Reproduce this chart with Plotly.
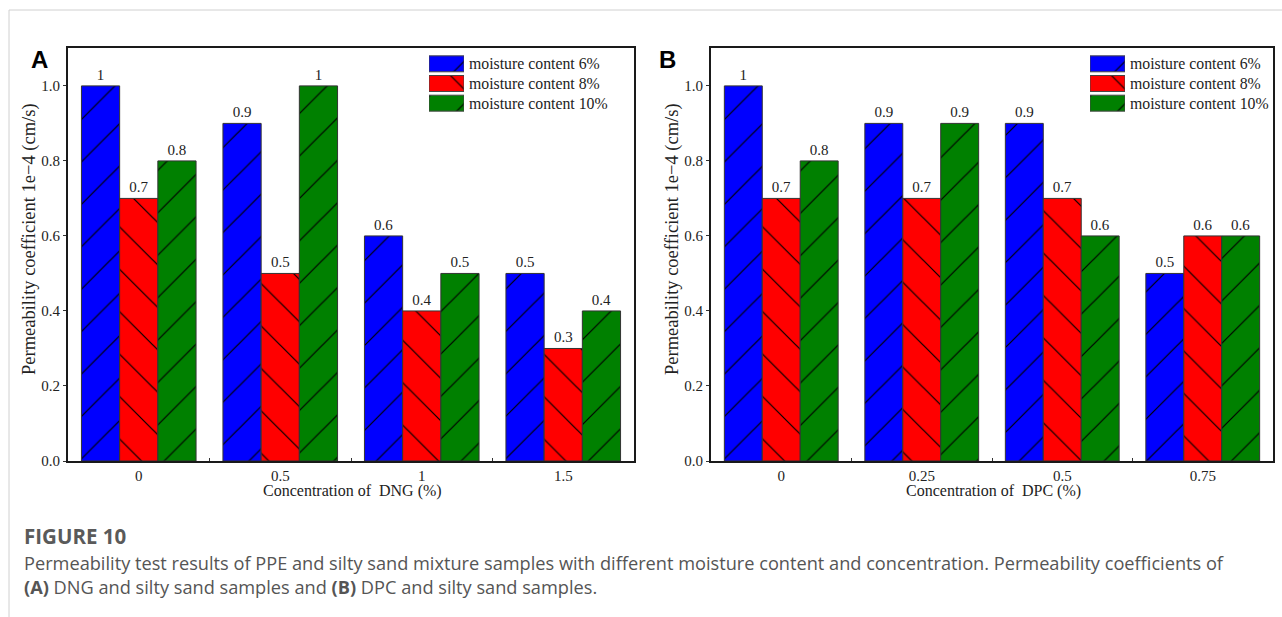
import plotly.graph_objects as go

cats_a = ["0", "0.5", "1", "1.5"]
cats_b = ["0", "0.25", "0.5", "0.75"]
series_names = ["moisture content 6%", "moisture content 8%", "moisture content 10%"]
vals_a = {
    "moisture content 6%": [1, 0.9, 0.6, 0.5],
    "moisture content 8%": [0.7, 0.5, 0.4, 0.3],
    "moisture content 10%": [0.8, 1, 0.5, 0.4],
}
vals_b = {
    "moisture content 6%": [1, 0.9, 0.9, 0.5],
    "moisture content 8%": [0.7, 0.7, 0.7, 0.6],
    "moisture content 10%": [0.8, 0.9, 0.6, 0.6],
}
y_ticks = [0.0, 0.2, 0.4, 0.6, 0.8, 1.0]
x_title_a = "Concentration of  DNG (%)"
x_title_b = "Concentration of  DPC (%)"
y_title = "Permeability coefficient 1e\u22124 (cm/s)"

colors = {"moisture content 6%": "#0000ff", "moisture content 8%": "#ff0000", "moisture content 10%": "#008000"}
shapes_p = {"moisture content 6%": "/", "moisture content 8%": "\\", "moisture content 10%": "/"}

W, H = 1282, 617
serif = "Liberation Serif, Times New Roman, serif"

def pat(name, size=30):
    return dict(shape=shapes_p[name], fgcolor="black", bgcolor=colors[name],
                size=size, solidity=0.04, fillmode="replace")

fig = go.Figure()
for cats, vals, xa, ya in [(cats_a, vals_a, "x", "y"), (cats_b, vals_b, "x2", "y2")]:
    for name in series_names:
        fig.add_trace(go.Bar(
            x=cats, y=vals[name], name=name, xaxis=xa, yaxis=ya, showlegend=False,
            text=[f"{v:g}" for v in vals[name]], textposition="outside",
            textfont=dict(family=serif, size=15, color="#222"),
            cliponaxis=False,
            marker=dict(color=colors[name], line=dict(color="#333", width=1), pattern=pat(name)),
        ))

# legend keys: one swatch per series, labelled with the series name (tick labels on the right)
for xa, ya in [("x3", "y3"), ("x4", "y4")]:
    for name in series_names:
        fig.add_trace(go.Bar(
            y=[name], x=[1], orientation="h", xaxis=xa, yaxis=ya, name=name,
            offsetgroup="key", showlegend=False, hoverinfo="skip",
            marker=dict(color=colors[name], line=dict(color="#444", width=1), pattern=pat(name)),
        ))

ydom = [(H - 461) / H, (H - 48) / H]
axis_common = dict(showline=True, linecolor="#1a1a1a", linewidth=2, mirror=True,
                   showgrid=False, zeroline=False)
leg_ydom = [(H - 113) / H, (H - 54) / H]
leg_x = dict(range=[0, 1], visible=False, fixedrange=True)
leg_y = dict(type="category", autorange="reversed", side="right", showline=False, showgrid=False,
             zeroline=False, ticks="", ticklabelstandoff=4, tickmode="array",
             tickvals=series_names, ticktext=series_names,
             tickfont=dict(family=serif, size=15.8, color="#222"), domain=leg_ydom)
fig.update_layout(
    width=W, height=H, margin=dict(l=0, r=0, t=0, b=0, autoexpand=False),
    paper_bgcolor="white", plot_bgcolor="rgba(0,0,0,0)",
    barmode="group", bargap=0.19, bargroupgap=0,
    font=dict(family=serif, size=15, color="#222"),
    showlegend=False,
    xaxis=dict(domain=[68 / W, 634 / W], type="category", tickson="boundaries",
               ticks="inside", ticklen=3, tickcolor="#333", tickfont=dict(size=15), **axis_common),
    xaxis2=dict(domain=[711 / W, 1273 / W], type="category", tickson="boundaries", anchor="y2",
                ticks="inside", ticklen=3, tickcolor="#333", tickfont=dict(size=15), **axis_common),
    yaxis=dict(domain=ydom, range=[0, 1.101], tickvals=y_ticks, tickformat=".1f",
               ticks="outside", ticklen=3, tickcolor="#333", tickfont=dict(size=15), **axis_common),
    yaxis2=dict(domain=ydom, range=[0, 1.101], tickvals=y_ticks, tickformat=".1f", anchor="x2",
                ticks="outside", ticklen=3, tickcolor="#333", tickfont=dict(size=15), **axis_common),
    xaxis3=dict(domain=[429 / W, 464 / W], anchor="y3", **leg_x),
    yaxis3=dict(anchor="x3", **leg_y),
    xaxis4=dict(domain=[1090 / W, 1125 / W], anchor="y4", **leg_x),
    yaxis4=dict(anchor="x4", **leg_y),
)

ann = []
def px(x, y):
    return x / W, (H - y) / H

def add_ann(xc, yc, text, font, xanchor="center", angle=0):
    x, y = px(xc, yc)
    ann.append(dict(x=x, y=y, xref="paper", yref="paper", text=text, showarrow=False,
                    xanchor=xanchor, yanchor="middle", textangle=angle, font=font))

for xc, txt in [(39, "A"), (667, "B")]:
    add_ann(xc, 60, f"<b>{txt}</b>", dict(family="Liberation Sans, Arial, sans-serif", size=24, color="black"))
for xc in [30, 673]:
    add_ann(xc, 239, y_title, dict(family=serif, size=18.5, color="#222"), angle=-90)
for xc, txt in [(352, x_title_a), (993, x_title_b)]:
    add_ann(xc, 491, txt, dict(family=serif, size=16, color="#222"))

cap_font = dict(family="Open Sans, sans-serif", size=18.2, color="#555")
add_ann(22, 536, "<b>FIGURE 10</b>", dict(family="Open Sans, sans-serif", size=20.5, color="#5a5a5a"), xanchor="left")
for yc, txt in [
    (563, "Permeability test results of PPE and silty sand mixture samples with different moisture content and concentration. Permeability coefficients of"),
    (587, "<b>(A)</b> DNG and silty sand samples and <b>(B)</b> DPC and silty sand samples."),
]:
    add_ann(22, yc, txt, cap_font, xanchor="left")
fig.update_layout(annotations=ann)

fig.add_shape(type="line", xref="paper", yref="paper", x0=9 / W, x1=1, y0=(H - 10) / H, y1=(H - 10) / H,
              line=dict(color="#d0d0d0", width=1))
fig.add_shape(type="line", xref="paper", yref="paper", x0=9 / W, x1=9 / W, y0=0, y1=(H - 10) / H,
              line=dict(color="#d0d0d0", width=1))

fig.write_html("out.html")
